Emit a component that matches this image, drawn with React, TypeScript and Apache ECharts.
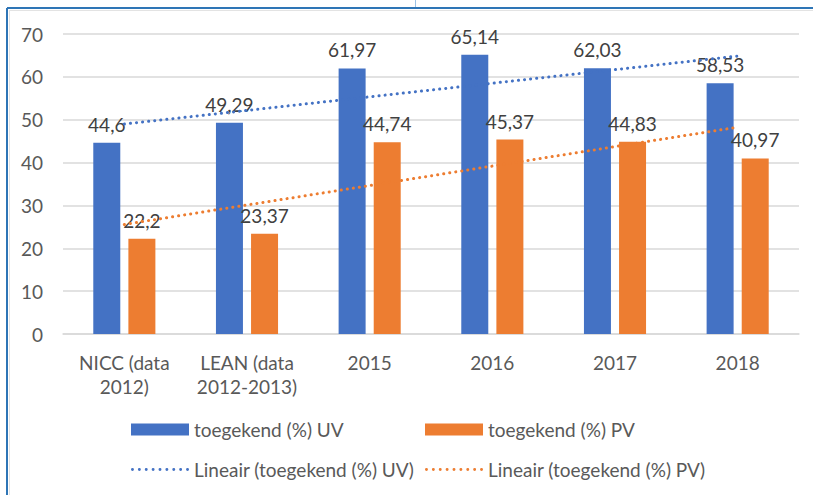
import React, { useEffect, useRef } from "react";
import * as echarts from "echarts";

const categories = ["NICC (data\n2012)", "LEAN (data\n2012-2013)", "2015", "2016", "2017", "2018"];
const uvValues = [44.6, 49.29, 61.97, 65.14, 62.03, 58.53];
const pvValues = [22.2, 23.37, 44.74, 45.37, 44.83, 40.97];
const yTicks = { min: 0, max: 70, interval: 10 };

const nameUV = "toegekend (%) UV";
const namePV = "toegekend (%) PV";
const nameTrendUV = "Lineair (toegekend (%) UV)";
const nameTrendPV = "Lineair (toegekend (%) PV)";

// least-squares linear trend (as Excel's "Lineair" trendline), x = 1..n
function linearTrend(values: number[]): number[] {
  const n = values.length;
  const xs = values.map((_, i) => i + 1);
  const mx = xs.reduce((a, b) => a + b, 0) / n;
  const my = values.reduce((a, b) => a + b, 0) / n;
  let sxy = 0;
  let sxx = 0;
  for (let i = 0; i < n; i++) {
    sxy += (xs[i] - mx) * (values[i] - my);
    sxx += (xs[i] - mx) * (xs[i] - mx);
  }
  const slope = sxy / sxx;
  return xs.map((x) => +(my + slope * (x - mx)).toFixed(3));
}

const FONT = "Lato, 'Open Sans', sans-serif";
const BLUE = "#4472C4";
const ORANGE = "#ED7D31";

// legend icon: a row of 9 round dots
function dotsIcon(): string {
  let d = "path://";
  for (let i = 0; i < 9; i++) {
    const cx = 1.5 + i * 7;
    d += `M${cx - 1.5},1.5a1.5,1.5 0 1,0 3,0a1.5,1.5 0 1,0 -3,0Z`;
  }
  return d;
}

export default function App() {
  const ref = useRef<HTMLDivElement>(null);
  useEffect(() => {
    document.body.style.margin = "0";
    const chart = echarts.init(ref.current!, undefined, { renderer: "svg" });
    const labelFmt = (p: any) => String(p.value).replace(".", ",");
    const dotted = { type: [0.1, 6] as any, width: 3, cap: "round" as const };
    const legendBase = {
      itemWidth: 58,
      itemHeight: 12,
      itemGap: 10,
      padding: 0,
      textStyle: { fontFamily: FONT, fontSize: 19, color: "#595959" },
      selectedMode: false,
    };
    const dots = dotsIcon();
    chart.setOption({
      animation: false,
      textStyle: { fontFamily: FONT },
      grid: { left: 63, right: 14, top: 34, bottom: 161, containLabel: false },
      xAxis: {
        type: "category",
        data: categories,
        axisLine: { lineStyle: { color: "#D9D9D9", width: 1.5 } },
        axisTick: { show: false },
        axisLabel: { interval: 0, fontFamily: FONT, fontSize: 19, color: "#595959", margin: 16, lineHeight: 24 },
      },
      yAxis: {
        type: "value",
        min: yTicks.min,
        max: yTicks.max,
        interval: yTicks.interval,
        axisLine: { show: false },
        axisTick: { show: false },
        splitLine: { lineStyle: { color: "#D9D9D9", width: 1.5 } },
        axisLabel: { fontFamily: FONT, fontSize: 19, color: "#595959", margin: 20 },
      },
      legend: [
        { ...legendBase, left: 131, top: 420, data: [{ name: nameUV, icon: "rect" }] },
        { ...legendBase, left: 425, top: 420, data: [{ name: namePV, icon: "rect" }] },
        { ...legendBase, left: 131, top: 460, itemHeight: 3, data: [{ name: nameTrendUV, icon: dots, itemStyle: { color: BLUE } }] },
        { ...legendBase, left: 425, top: 460, itemHeight: 3, data: [{ name: nameTrendPV, icon: dots, itemStyle: { color: ORANGE } }] },
      ],
      series: [
        {
          name: nameUV,
          type: "bar",
          data: uvValues,
          barWidth: 27,
          barGap: "30%",
          itemStyle: { color: BLUE },
          label: { show: true, position: "top", distance: 9, fontFamily: FONT, fontSize: 19, color: "#404040", formatter: labelFmt },
        },
        {
          name: namePV,
          type: "bar",
          data: pvValues,
          barWidth: 27,
          barGap: "30%",
          itemStyle: { color: ORANGE },
          label: { show: true, position: "top", distance: 9, fontFamily: FONT, fontSize: 19, color: "#404040", formatter: labelFmt },
        },
        {
          name: nameTrendUV,
          type: "line",
          data: linearTrend(uvValues),
          symbol: "none",
          z: 5,
          itemStyle: { color: BLUE },
          lineStyle: { color: BLUE, ...dotted },
        },
        {
          name: nameTrendPV,
          type: "line",
          data: linearTrend(pvValues),
          symbol: "none",
          z: 5,
          itemStyle: { color: ORANGE },
          lineStyle: { color: ORANGE, ...dotted },
        },
      ],
      graphic: [
        { type: "line", silent: true, shape: { x1: 7, y1: 8, x2: 813, y2: 8 }, style: { stroke: "#2E75B6", lineWidth: 2 } },
        { type: "line", silent: true, shape: { x1: 7, y1: 8, x2: 7, y2: 495 }, style: { stroke: "#2E75B6", lineWidth: 2 } },
        { type: "line", silent: true, shape: { x1: 9, y1: 10.5, x2: 813, y2: 10.5 }, style: { stroke: "#E3E3E3", lineWidth: 1 } },
        { type: "line", silent: true, shape: { x1: 9.5, y1: 10, x2: 9.5, y2: 495 }, style: { stroke: "#E3E3E3", lineWidth: 1 } },
        { type: "line", silent: true, shape: { x1: 415.5, y1: 0, x2: 415.5, y2: 7 }, style: { stroke: "#9DC3E6", lineWidth: 1 } },
      ],
    });
    return () => chart.dispose();
  }, []);
  return <div ref={ref} style={{ position: "absolute", left: 0, top: 0, width: 813, height: 495 }} />;
}
